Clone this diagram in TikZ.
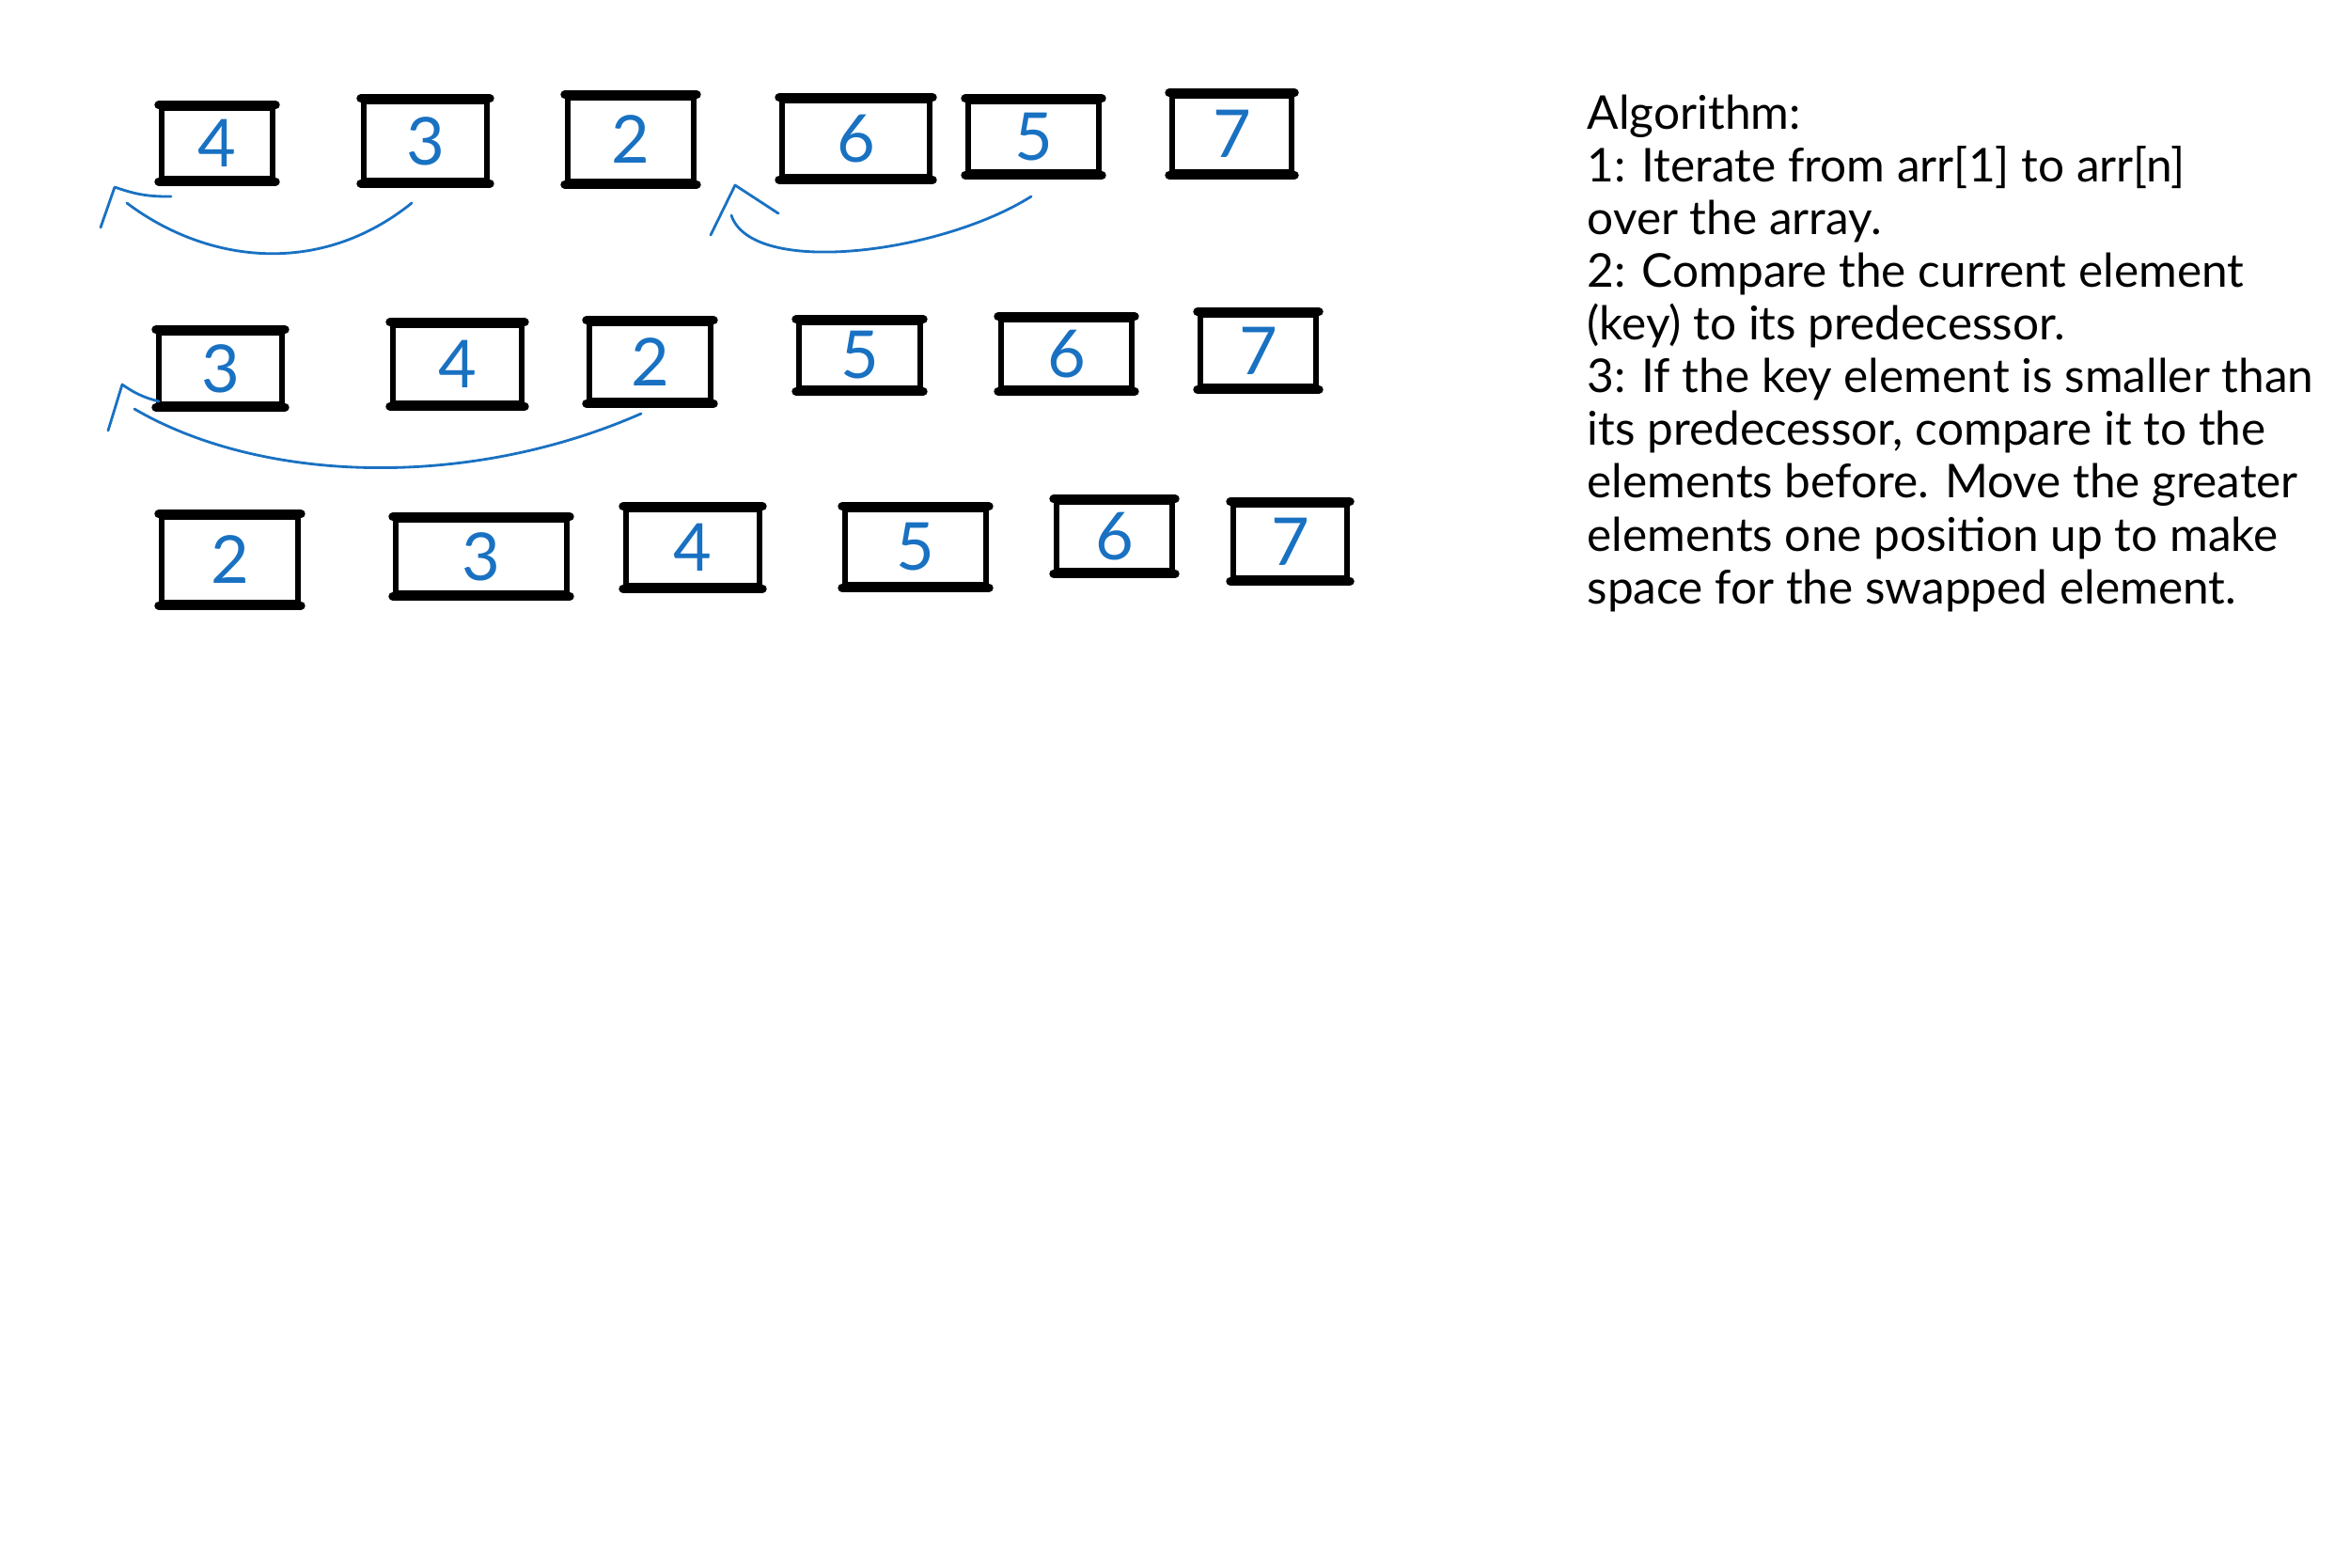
\documentclass[tikz,border=0pt]{standalone}
\usepackage{fontspec}
\setmainfont{Lato}
\usetikzlibrary{arrows.meta, calc}
\definecolor{penblue}{HTML}{1971C2}
\tikzset{%
    cell/.style={rectangle, draw, line width=1.8pt, inner sep=0pt, text=penblue, font=\fontsize{20}{20}\selectfont},
    sz/.style 2 args={minimum width=#1cm, minimum height=#2cm},
    bar/.style={line width=2.6pt, line cap=round},
    pen/.style={line width=0.8pt, penblue, line cap=round, line join=round},
    txt/.style={anchor=base west, inner sep=0pt, font=\fontsize{14.1}{15}\selectfont},
}
\begin{document}
\begin{tikzpicture}
    \useasboundingbox (0,0) rectangle (25,-16.67);
    \node[cell, sz={1.18}{0.75}] (a1) at (2.31,-1.525) {4};
    \node[cell, sz={1.31}{0.84}] (a2) at (4.525,-1.50) {3};
    \node[cell, sz={1.34}{0.89}] (a3) at (6.71,-1.485) {2};
    \node[cell, sz={1.57}{0.81}] (a4) at (9.105,-1.475) {6};
    \node[cell, sz={1.39}{0.75}] (a5) at (10.995,-1.455) {5};
    \node[cell, sz={1.27}{0.81}] (a6) at (13.105,-1.425) {7};
    \node[cell, sz={1.31}{0.76}] (b1) at (2.345,-3.92) {3};
    \node[cell, sz={1.37}{0.83}] (b2) at (4.865,-3.875) {4};
    \node[cell, sz={1.29}{0.82}] (b3) at (6.915,-3.85) {2};
    \node[cell, sz={1.29}{0.70}] (b4) at (9.145,-3.78) {5};
    \node[cell, sz={1.39}{0.73}] (b5) at (11.345,-3.765) {6};
    \node[cell, sz={1.23}{0.76}] (b6) at (13.385,-3.73) {7};
    \node[cell, sz={1.45}{0.91}] (c1) at (2.445,-5.955) {2};
    \node[cell, sz={1.82}{0.78}] (c2) at (5.12,-5.92) {3};
    \node[cell, sz={1.42}{0.81}] (c3) at (7.37,-5.825) {4};
    \node[cell, sz={1.50}{0.80}] (c4) at (9.74,-5.82) {5};
    \node[cell, sz={1.23}{0.73}] (c5) at (11.855,-5.705) {6};
    \node[cell, sz={1.21}{0.78}] (c6) at (13.725,-5.76) {7};
    \foreach \b in {a1,a2,a3,a4,a5,a6,b1,b2,b3,b4,b5,b6,c1,c2,c3,c4,c5,c6}
        \draw[bar] (\b.north west) -- (\b.north east) (\b.south west) -- (\b.south east);
    \coordinate (s1) at (4.38,-2.16);
    \coordinate (e1) at (1.35,-2.16);
    \coordinate (h1) at (1.22,-1.99);
    \draw[pen] (s1) .. controls (3.4,-2.95) and (2.2,-2.8) .. (e1);
    \draw[pen] (1.07,-2.42) -- (h1) to[bend right=10] (1.82,-2.09);
    \coordinate (s2) at (10.97,-2.09);
    \coordinate (e2) at (7.78,-2.29);
    \coordinate (h2) at (7.82,-1.97);
    \draw[pen] (s2) .. controls (10.0,-2.7) and (8.0,-2.95) .. (e2);
    \draw[pen] (7.56,-2.50) -- (h2) -- (8.28,-2.27);
    \coordinate (s3) at (6.82,-4.40);
    \coordinate (e3) at (1.43,-4.35);
    \coordinate (h3) at (1.30,-4.09);
    \draw[pen] (s3) .. controls (5.0,-5.2) and (2.8,-5.15) .. (e3);
    \draw[pen] (1.15,-4.58) -- (h3) to[bend right=10] (1.69,-4.27);
    \foreach \ln [count=\i] in {{Algorithm:}, {1: Iterate from arr[1] to arr[n]}, {over the array.},
        {2: Compare the current element}, {(key) to its predecessor.},
        {3: If the key element is smaller than}, {its predecessor, compare it to the},
        {elements before. Move the greater}, {elements one position up to make},
        {space for the swapped element.}}
        \node[txt] (line\i) at (16.88,{-1.37-0.5613*(\i-1)}) {\ln};
\end{tikzpicture}
\end{document}
